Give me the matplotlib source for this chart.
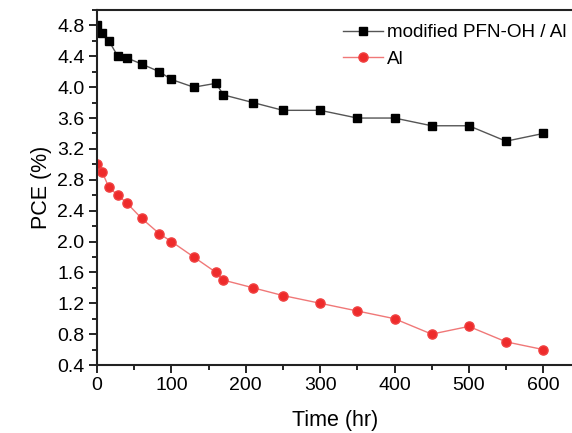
import numpy as np
import matplotlib.pyplot as plt
from matplotlib.ticker import MultipleLocator

plt.rcParams['font.family'] = ['Liberation Sans', 'DejaVu Sans']

# time points (hr)
time = [0, 7, 16, 28, 40, 60, 84, 100, 130, 160, 170, 210, 250, 300,
        350, 400, 450, 500, 550, 600]
# PCE (%)
pce_pfn = [4.8, 4.7, 4.6, 4.4, 4.38, 4.3, 4.2, 4.1, 4.0, 4.05, 3.9, 3.8,
           3.7, 3.7, 3.6, 3.6, 3.5, 3.5, 3.3, 3.4]
pce_al = [3.0, 2.9, 2.7, 2.6, 2.5, 2.3, 2.1, 2.0, 1.8, 1.6, 1.5, 1.4,
          1.3, 1.2, 1.1, 1.0, 0.8, 0.9, 0.7, 0.6]
labels = ["modified PFN-OH / Al", "Al"]


def main():
    W, H = 572, 433
    fig = plt.figure(figsize=(W / 100, H / 100), dpi=100)
    ax = fig.add_axes([97 / W, 68 / H, 476 / W, 355 / H])

    ax.plot(time, pce_pfn, color="#555555", lw=1.0, marker="s", ms=5.8,
            mfc="black", mec="black", label=labels[0])
    ax.plot(time, pce_al, color="#f07878", lw=1.0, marker="o", ms=6.6,
            mfc="#ee2b2b", mec="#f04040", label=labels[1])

    ax.set_xlim(0, 640)
    ax.set_ylim(0.4, 5.0)
    ax.xaxis.set_major_locator(MultipleLocator(100))
    ax.xaxis.set_minor_locator(MultipleLocator(50))
    ax.yaxis.set_major_locator(MultipleLocator(0.4))
    ax.yaxis.set_minor_locator(MultipleLocator(0.2))
    ax.yaxis.set_major_formatter(plt.FormatStrFormatter("%.1f"))
    ax.tick_params(which="major", direction="out", length=6, width=1.2,
                   labelsize=14, pad=3)
    ax.tick_params(which="minor", direction="out", length=3.5, width=1.2)
    ax.tick_params(top=False, right=False)
    for s in ax.spines.values():
        s.set_linewidth(1.5)
        s.set_color("#222222")
    ax.spines["right"].set_visible(False)

    ax.set_xlabel("Time (hr)", fontsize=15.5, labelpad=11)
    ax.set_ylabel("PCE (%)", fontsize=15.5, labelpad=4)

    # slightly smaller than the reference so the label stays inside the figure
    ax.legend(loc="upper left", bbox_to_anchor=(343 / W, 1 - 24 / H),
              bbox_transform=fig.transFigure, frameon=False,
              fontsize=13.6, handlelength=2.1, handletextpad=0.25,
              labelspacing=0.5, borderpad=0, borderaxespad=0)

    fig.savefig("out.png", dpi=100)


if __name__ == "__main__":
    main()
